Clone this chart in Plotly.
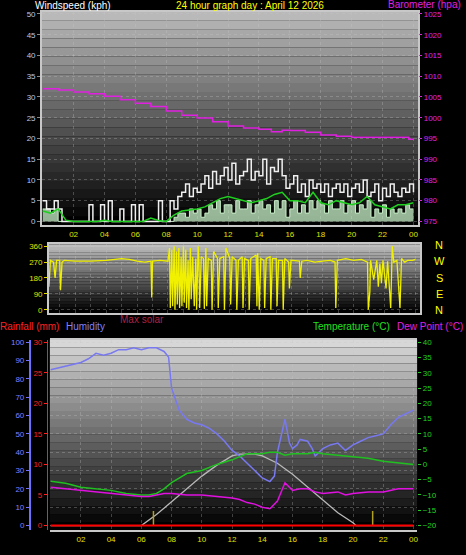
import plotly.graph_objects as go

W, H = 466, 555
hours_q = [i * 0.25 for i in range(97)]
hours_h = [i * 0.5 for i in range(49)]
xt_vals = [2, 4, 6, 8, 10, 12, 14, 16, 18, 20, 22, 24]
xt_text = ["02", "04", "06", "08", "10", "12", "14", "16", "18", "20", "22", "00"]

wind_gust = [5,3,3,5, 3,0,0,0, 0,0,0,0, 4,0,0,4, 0,5,0,0, 3,0,0,4, 0,4,0,0, 0,0,5,0,
             0,5,3,6, 7,9,6,8, 7,9,11,8, 12,9,11,13, 10,14,9,11, 12,15,10,12, 11,15,9,13,
             12,15,11,8, 9,11,7,9, 6,10,8,9, 7,9,6,8, 9,7,9,6, 8,9,7,10, 6,7,9,5,
             8,6,9,7, 6,8,7,9, 7]
wind_speed = [3,3,2,3, 0,0,0,0] + [0] * 24 + [0,0,1,2, 2,1,3,2, 3,1,2,4, 3,5,2,4, 4,2,5,3,
              3,5,2,4, 5,3,4,2, 5,3,5,1, 3,5,2,4, 2,5,3,5, 4,2,5,3, 3,5,2,4, 5,2,4,3,
              5,1,3,2, 4,1,3,2, 3,2,4,3, 3]
wind_avg = [2.5,2,3,0.3,0,0,0,0,0.3,0,0,0,0,0,0.8,0.2,0,1.5,2.5,2.8,3,3.5,4.5,5.5,6,5.5,5,
            4.5,5,5.5,6.5,7,5,5,4.5,7,4.5,4,5,4.5,4,4.5,6,4,3.5,3,4,4,4.5]
baro_hours = [0,1,2,3,4,5,6,7,8,9,10,11,12,13,14,14.8,15.5,16,17,18,19,20,21,22,23,23.6,23.7,24]
baro = [1007,1006.7,1006.2,1005.8,1005.2,1004.3,1003.5,1002.7,1001.6,1000.6,999.9,999.0,998.0,
        997.5,997.2,996.6,997.0,996.9,996.5,995.8,995.5,995.3,995.3,995.3,995.3,995.3,994.8,994.8]

direction_samples = [(0,280),(0.2,285),(0.3,130),(0.4,280),(0.6,270),(0.7,180),(0.8,280),(1.0,280),
    (1.05,110),(1.15,270),(1.3,280),(2,275),(3,275),(4,280),(5,290),(5.5,285),(6,275),(6.5,270),
    (6.9,275),(6.95,70),(7.0,275),(7.5,280),(8,275),(8.1,350),(8.15,10),(8.25,340),(8.3,20),(8.4,360),
    (8.45,0),(8.55,330),(8.6,30),(8.7,350),(8.75,10),(8.85,300),(8.9,20),(9.0,360),(9.05,40),(9.15,340),
    (9.2,10),(9.3,280),(9.35,0),(9.45,350),(9.5,60),(9.6,300),(9.7,20),(9.8,290),(9.85,0),(9.95,360),
    (10.0,280),(10.05,10),(10.15,300),(10.3,290),(10.35,5),(10.45,350),(10.5,20),(10.6,290),(10.8,280),
    (10.85,0),(10.95,330),(11.2,290),(11.25,10),(11.35,290),(11.6,300),(11.65,0),(11.75,350),(12.0,290),
    (12.05,30),(12.15,300),(12.4,280),(12.45,0),(12.55,280),(12.8,300),(12.85,10),(12.95,290),(13.2,280),
    (13.25,0),(13.35,290),(13.7,310),(13.75,20),(13.8,320),(13.9,0),(14.0,290),(14.2,280),(14.25,10),
    (14.35,290),(14.6,300),(14.65,0),(14.75,290),(15.0,290),(15.05,20),(15.15,280),(15.4,280),(15.45,0),
    (15.55,290),(15.8,270),(15.85,120),(15.95,280),(16.5,275),(16.55,180),(16.65,275),(17,280),(17.5,270),
    (18,275),(18.5,280),(18.8,270),(18.85,10),(18.95,280),(19.5,290),(20,280),(20.5,285),(20.9,270),
    (20.95,0),(21.05,100),(21.1,280),(21.3,170),(21.5,280),(21.6,130),(21.7,260),(21.8,150),(21.9,280),
    (22.1,120),(22.2,275),(22.4,10),(22.5,360),(22.6,270),(22.8,280),(23.0,10),(23.1,290),(23.3,270),
    (23.5,280),(23.8,280),(24,285)]

hum_hours = [0,0.5,1,1.5,2,2.5,3,3.5,4,4.5,5,5.5,6,6.5,7,7.5,7.8,8,8.3,8.5,9,9.5,10,10.5,11,11.5,12,
             12.5,13,13.5,14,14.5,14.8,15,15.3,15.5,15.8,16,16.3,16.5,17,17.3,17.5,18,18.5,19,19.5,20,
             20.5,21,21.5,22,22.5,23,23.5,24]
humidity = [85,86,87,88,89,91,94,93,94,96,96,97,96,97,97,95,92,75,68,63,58,56,55,53,50,46,41,38,34,30,
            26,24,27,40,52,58,45,42,44,47,46,42,38,42,44,45,41,44,46,48,49,50,55,59,61,63]
dew_hours = [0,1,2,3,4,5,6,6.5,7,7.5,8,9,10,11,12,12.5,13,13.5,14,14.5,15,15.5,16,16.5,17,17.5,18,19,
             19.5,20,21,22,22.5,23,24]
dew_point = [-7.5,-8,-8.5,-9,-9.5,-10,-10.5,-10.5,-10,-9.5,-9.5,-10,-10,-10.5,-11,-11.5,-12.5,-13,-14,
             -14.5,-12,-6,-8.5,-8,-8,-9,-9.5,-9,-10,-9.5,-9,-9,-8.5,-8,-8]
temp_hours = [0,1,2,3,4,5,6,6.5,7,7.5,8,8.5,9,10,11,12,12.5,13,14,14.5,15,15.5,16,17,17.5,18,19,20,21,22,23,24]
temperature = [-5.5,-6.2,-7.5,-8,-8.5,-9.5,-10,-10,-9.5,-8,-6,-4.5,-3,-2,0,1.5,2.5,3.5,3.5,4,4,3,3.5,3.5,
               4,3.5,3,2.5,2,1,0.5,0]
solar_hours = [0,6,7,8,9,10,11,12,12.5,13.5,14,15,16,17,18,19,20,20.2,24]
max_solar = [0,0,6,13,20,27,33,38,39,39,38,34,28,21,14,7,1.5,0,0]
rain_hours = [0, 24]
rainfall = [0, 0]
sun_marks = [6.8, 21.3]

fig = go.Figure()

def px2p(py):
    return 1 - py / H

shapes = []
def gradient(x0, x1, y0, y1, top, n=24):
    for i in range(n):
        g = int(top * (1 - i / (n - 1)))
        shapes.append(dict(type="rect", xref="paper", yref="paper", layer="below", line_width=0,
                           x0=x0 / W, x1=x1 / W, y0=px2p(y0 + (y1 - y0) * (i + 1) / n),
                           y1=px2p(y0 + (y1 - y0) * i / n), fillcolor=f"rgb({g},{g},{g})"))
gradient(42, 419, 10, 225, 185)
gradient(49, 421, 244, 313, 190)
gradient(50, 418, 340, 532, 215)

fig.add_trace(go.Scatter(x=hours_q, y=wind_speed, mode="lines", line=dict(color="#c8f0c8", width=1, shape="hv"),
                         fill="tozeroy", fillcolor="rgba(200,240,200,0.75)", xaxis="x", yaxis="y"))
fig.add_trace(go.Scatter(x=hours_q, y=wind_gust, mode="lines", line=dict(color="#f0f0f0", width=1.5, shape="hv"),
                         xaxis="x", yaxis="y"))
fig.add_trace(go.Scatter(x=hours_h, y=wind_avg, mode="lines", line=dict(color="#20d020", width=1.5),
                         xaxis="x", yaxis="y"))
fig.add_trace(go.Scatter(x=baro_hours, y=baro, mode="lines", line=dict(color="#e020e0", width=1.5, shape="hv"),
                         xaxis="x", yaxis="y2"))
fig.add_trace(go.Scatter(x=[d[0] for d in direction_samples], y=[d[1] for d in direction_samples], mode="lines",
                         line=dict(color="#f0f000", width=1.3), xaxis="x2", yaxis="y3"))
fig.add_trace(go.Scatter(x=solar_hours, y=max_solar, mode="lines", line=dict(color="#b8b8b8", width=1.3),
                         xaxis="x3", yaxis="y4"))
fig.add_trace(go.Scatter(x=rain_hours, y=rainfall, mode="lines", line=dict(color="#ff0000", width=2),
                         xaxis="x3", yaxis="y5"))
sx, sy = [], []
for s in sun_marks:
    sx += [s, s, None]
    sy += [0, 8, None]
fig.add_trace(go.Scatter(x=sx, y=sy, mode="lines", line=dict(color="#b0a020", width=1.5), xaxis="x3", yaxis="y4"))
fig.add_trace(go.Scatter(x=hum_hours, y=humidity, mode="lines", line=dict(color="#7878f0", width=1.5),
                         xaxis="x3", yaxis="y4"))
fig.add_trace(go.Scatter(x=temp_hours, y=temperature, mode="lines", line=dict(color="#20c020", width=1.5),
                         xaxis="x3", yaxis="y6"))
fig.add_trace(go.Scatter(x=dew_hours, y=dew_point, mode="lines", line=dict(color="#e010e0", width=1.5),
                         xaxis="x3", yaxis="y6"))

tf = dict(family="Liberation Sans, Arial", size=8)
grid = dict(showgrid=True, gridcolor="rgba(200,200,200,0.3)", griddash="dot", zeroline=False)
frame = dict(showline=True, linecolor="#c8c8c8", linewidth=1.5, mirror=True)

fig.update_layout(
    width=W, height=H, margin=dict(l=0, r=0, t=0, b=0), showlegend=False,
    paper_bgcolor="black", plot_bgcolor="rgba(0,0,0,0)", shapes=shapes,
    font=dict(family="Liberation Sans, Arial", size=8),
    xaxis=dict(domain=[42 / W, 419 / W], range=[-0.05, 24.3], tickvals=xt_vals, ticktext=xt_text,
               tickfont=dict(tf, color="#e0e000"), anchor="y", ticks="", **grid, **frame),
    yaxis=dict(domain=[px2p(225), px2p(10)], range=[-0.96, 50.5], tickvals=list(range(0, 55, 5)),
               tickfont=dict(tf, color="#b0c8ff"), ticks="outside", ticklen=3, tickcolor="#888", **grid, **frame),
    yaxis2=dict(overlaying="y", side="right", anchor="x", range=[974.04, 1025.5],
                tickvals=list(range(975, 1030, 5)), tickfont=dict(tf, color="#e020e0"), showgrid=False,
                ticks="outside", ticklen=3, tickcolor="#e020e0", zeroline=False),
    xaxis2=dict(domain=[49 / W, 421 / W], range=[0.3, 24.3], anchor="y3", showticklabels=False,
                tickvals=list(range(0, 25)), **grid, **frame),
    yaxis3=dict(domain=[px2p(313), px2p(244)], range=[-17, 371], anchor="x2", tickvals=[0, 90, 180, 270, 360],
                tickfont=dict(tf, color="#e0e000"), ticks="outside", ticklen=3, tickcolor="#e0e000", **grid, **frame),
    xaxis3=dict(domain=[50 / W, 418 / W], range=[-0.05, 24.24], anchor="y4", tickvals=xt_vals, ticktext=xt_text,
                tickfont=dict(tf, color="#e0e000"), **grid, **frame),
    yaxis4=dict(domain=[px2p(532), px2p(340)], range=[-2.5, 101.5], anchor="free", position=30 / W,
                tickvals=list(range(0, 110, 10)), tickfont=dict(tf, color="#8080ff"), showline=True,
                linecolor="#7070ff", linewidth=2, ticks="outside", ticklen=3, tickcolor="#7070ff",
                showgrid=True, gridcolor="rgba(200,200,200,0.3)", griddash="dot", zeroline=False),
    yaxis5=dict(overlaying="y4", anchor="free", position=47 / W, range=[-0.76, 30.44],
                tickvals=[0, 5, 10, 15, 20, 25, 30], tickfont=dict(tf, color="#ff2020"), showline=True,
                linecolor="#ff2020", linewidth=1, ticks="outside", ticklen=3, tickcolor="#ff2020",
                showgrid=False, zeroline=False),
    yaxis6=dict(overlaying="y4", side="right", anchor="x3", range=[-21.53, 40.88],
                tickvals=list(range(-20, 45, 5)), tickfont=dict(tf, color="#20d020"), ticks="outside", ticklen=3,
                tickcolor="#20d020", showgrid=False, zeroline=False),
)

def ann(text, x, y, color, size=10, anchor="left"):
    fig.add_annotation(text=text, x=x / W, y=px2p(y), xref="paper", yref="paper", showarrow=False,
                       xanchor=anchor, yanchor="middle",
                       font=dict(family="Liberation Sans, Arial", size=size, color=color))

ann("Windspeed (kph)", 33, 4, "white")
ann("24 hour graph day : April 12 2026", 251, 4, "#ffff00", anchor="center")
ann("Barometer (hpa)", 464, 3, "#e020e0", anchor="right")
for i, ch in enumerate(["N", "W", "S", "E", "N"]):
    ann(ch, 440, 245 + i * 16.3, "#ffff00", size=11, anchor="center")
ann("Rainfall (mm)", -2, 327, "#ff2020")
ann("Humidity", 64, 327, "#8080ff")
ann("Max solar", 118, 320, "#b02040")
ann("Temperature (°C)", 393, 327, "#20e020", anchor="right")
ann("Dew Point (°C)", 466, 327, "#e020e0", anchor="right")

fig.write_html("out.html", config={"displayModeBar": False},
               post_script="document.body.style.margin='0';document.body.style.overflow='hidden';")
